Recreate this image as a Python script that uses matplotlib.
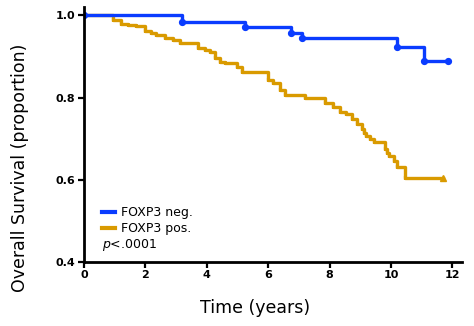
import numpy as np
import matplotlib
matplotlib.use('Agg')
import matplotlib.pyplot as plt

########################### Data ###########################

# FOXP3 negative: event times [years] and survival after each step
neg_times    = [0.0, 3.19, 5.24, 6.73, 7.09, 10.2, 11.06]
neg_surv     = [1.0, 0.983, 0.971, 0.957, 0.945, 0.923, 0.889]
neg_end      = 11.84

# FOXP3 positive
pos_times    = [0.0, 0.95, 1.2, 1.45, 1.7, 2.0, 2.2, 2.35, 2.65, 2.9, 3.12, 3.7, 3.95,
                4.1, 4.26, 4.42, 4.6, 4.97, 5.14, 5.98, 6.15, 6.37, 6.54, 7.19, 7.84,
                8.1, 8.33, 8.55, 8.72, 8.88, 9.04, 9.12, 9.2, 9.3, 9.46, 9.79, 9.87,
                9.95, 10.1, 10.2, 10.44]
pos_surv     = [1.0, 0.988, 0.98, 0.977, 0.973, 0.962, 0.958, 0.953, 0.946, 0.94, 0.933,
                0.92, 0.916, 0.911, 0.896, 0.887, 0.884, 0.875, 0.862, 0.843, 0.836,
                0.819, 0.807, 0.8, 0.788, 0.778, 0.766, 0.759, 0.747, 0.735, 0.723,
                0.714, 0.706, 0.699, 0.692, 0.675, 0.666, 0.658, 0.645, 0.631, 0.605]
pos_end      = 11.68

x_ticks      = [0, 2, 4, 6, 8, 10, 12]
y_ticks      = [0.4, 0.6, 0.8, 1.0]

c_neg        = '#0a3cff'
c_pos        = '#d99a00'

########################### Plot #####################################

fig = plt.figure(figsize=(4.74, 3.26), dpi=100)
ax = fig.add_axes([0.177, 0.196, 0.797, 0.782])

t_neg = neg_times + [neg_end]
s_neg = neg_surv + [neg_surv[-1]]
t_pos = pos_times + [pos_end]
s_pos = pos_surv + [pos_surv[-1]]

ax.step(t_pos, s_pos, where='post', color=c_pos, lw=2.4)
ax.plot(pos_times[1:], pos_surv[1:], ls='none', marker='|', ms=2.5, mew=1.6, color=c_pos)
ax.plot([pos_end], [pos_surv[-1]], ls='none', marker='^', ms=4.5, color=c_pos)

ax.step(t_neg, s_neg, where='post', color=c_neg, lw=2.4)
ax.plot(neg_times[1:] + [neg_end], neg_surv[1:] + [neg_surv[-1]], ls='none',
        marker='o', ms=4.2, color=c_neg)
ax.plot([0], [1.0], ls='none', marker='o', ms=4.2, color=c_neg)

ax.set_xlim(0, 12.3)
ax.set_ylim(0.4, 1.02)
ax.set_xticks(x_ticks)
ax.set_yticks(y_ticks)
ax.set_xticklabels([str(v) for v in x_ticks], fontsize=8, fontweight='bold')
ax.set_yticklabels(['%.1f' % v for v in y_ticks], fontsize=8, fontweight='bold')
ax.tick_params(direction='out', length=4, width=1.6, pad=2)

for s in ['top', 'right']:
    ax.spines[s].set_visible(False)
for s in ['left', 'bottom']:
    ax.spines[s].set_linewidth(2)

ax.set_xlabel('Time (years)', fontsize=12.5)
ax.set_ylabel('Overall Survival (proportion)', fontsize=12.5)
ax.xaxis.set_label_coords(0.452, -0.145)
ax.yaxis.set_label_coords(-0.145, 0.37)

ax.plot([], [], color=c_neg, lw=3, label='FOXP3 neg.')
ax.plot([], [], color=c_pos, lw=3, label='FOXP3 pos.')
ax.legend(loc='lower left', bbox_to_anchor=(0.035, 0.085), frameon=False, fontsize=9,
          handlelength=1.0, handletextpad=0.5, labelspacing=0.25, borderaxespad=0)
ax.text(0.6, 0.435, r'$\it{p}$<.0001', fontsize=9)

plt.savefig('out.png', dpi=100)
